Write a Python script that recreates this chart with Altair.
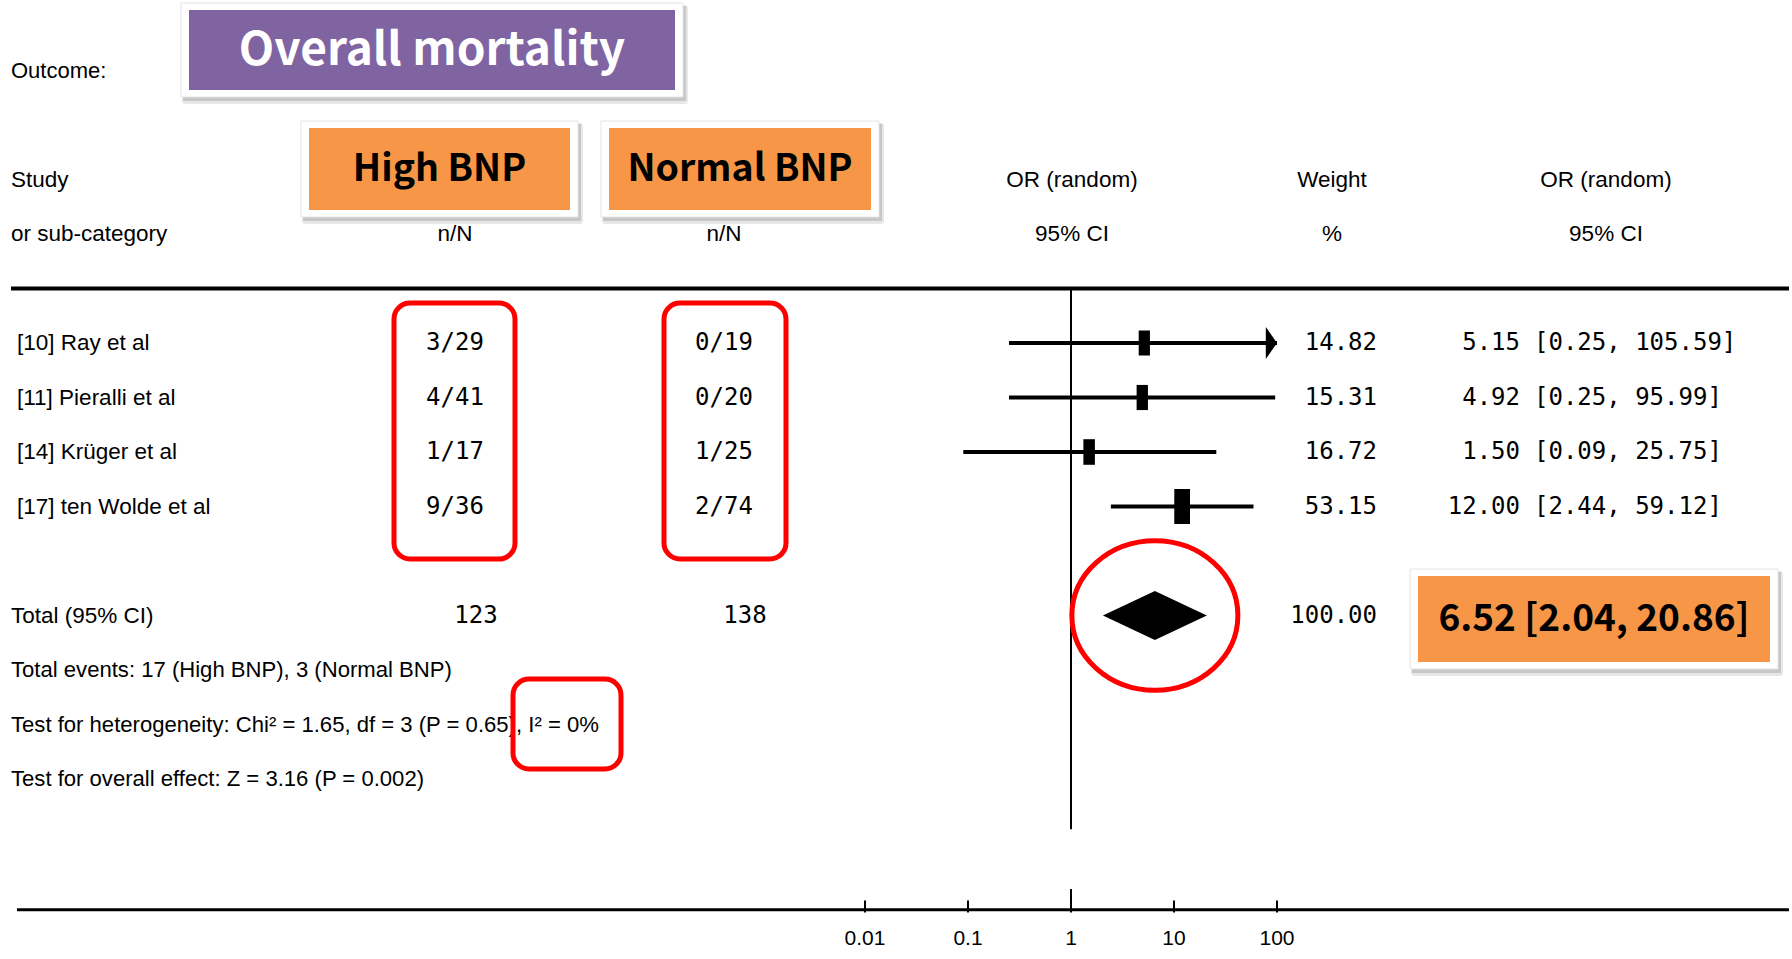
import altair as alt
import pandas as pd

# ---------------- data ----------------
studies = ["[10] Ray et al", "[11] Pieralli et al", "[14] Krüger et al", "[17] ten Wolde et al"]
high_bnp = ["3/29", "4/41", "1/17", "9/36"]
normal_bnp = ["0/19", "0/20", "1/25", "2/74"]
weight = [14.82, 15.31, 16.72, 53.15]
odds_ratio = [5.15, 4.92, 1.50, 12.00]
ci_low = [0.25, 0.25, 0.09, 2.44]
ci_high = [105.59, 95.99, 25.75, 59.12]

total_label = "Total (95% CI)"
total_high_n = 123
total_normal_n = 138
total_weight = 100.00
total_or = 6.52
total_low = 2.04
total_up = 20.86

footer_lines = [
    "Total events: 17 (High BNP), 3 (Normal BNP)",
    "Test for heterogeneity: Chi² = 1.65, df = 3 (P = 0.65), I² = 0%",
    "Test for overall effect: Z = 3.16 (P = 0.002)",
]

axis_ticks = [0.01, 0.1, 1, 10, 100]

# ---------------- layout ----------------
W, H = 1792, 959
PX_ONE, PX_DECADE = 1071, 103          # pixel of OR = 1, pixels per decade
ROW0, ROW_PX = 343, 54.5               # pixel of first study row, row pitch

x_scale = alt.Scale(type="log",
                    domain=[10 ** (-PX_ONE / PX_DECADE), 10 ** ((W - PX_ONE) / PX_DECADE)],
                    nice=False)
y_scale = alt.Scale(type="linear", domain=[-ROW0 / ROW_PX, (H - ROW0) / ROW_PX],
                    reverse=True, zero=False, nice=False)

TXT = "'Liberation Sans', Arial, sans-serif"
NUM = "'DejaVu Sans Mono', 'Liberation Mono', monospace"
BOX = "'Noto Sans CJK KR', 'Noto Sans', sans-serif"
TXT_SIZE = 22.5
NUM_SIZE = 24
AXIS_MAX = max(axis_ticks)


def X(field):
    return alt.X(field, type="quantitative", scale=x_scale, axis=None)


def Y(field):
    return alt.Y(field, type="quantitative", scale=y_scale, axis=None)


one = alt.Data(values=[{}])


def text_rows(labels, rows, x_px, align="left", font=TXT, size=TXT_SIZE, **kw):
    df = pd.DataFrame({"label": labels, "row": rows})
    return alt.Chart(df).mark_text(align=align, baseline="middle", font=font,
                                   fontSize=size, color="black", **kw).encode(
        x=alt.value(x_px), y=Y("row"), text="label:N")


def rect(x0, y0, x1, y1, **kw):
    return alt.Chart(one).mark_rect(**kw).encode(
        x=alt.value(x0), x2=alt.value(x1), y=alt.value(y0), y2=alt.value(y1))


def label_box(x0, y0, x1, y1, fill, text, color, size):
    shadow_soft = rect(x0 + 1, y0 + 2, x1 + 5, y1 + 7, color="#b0b0b0", opacity=0.3,
                       cornerRadius=3)
    shadow = rect(x0 + 2, y0 + 3, x1 + 3, y1 + 4, color="#a0a0a0", opacity=0.45)
    frame = rect(x0, y0, x1, y1, color="white", stroke="#e4e4e4", strokeWidth=1)
    inner = rect(x0 + 8, y0 + 7, x1 - 8, y1 - 7, color=fill)
    txt = alt.Chart(one).mark_text(text=text, font=BOX, fontWeight="bold", fontSize=size,
                                   color=color, align="center", baseline="middle").encode(
        x=alt.value((x0 + x1) / 2), y=alt.value((y0 + y1) / 2 + 1))
    return [shadow_soft, shadow, frame, inner, txt]


def red_frame(x0, y0, x1, y1):
    return rect(x0, y0, x1, y1, fillOpacity=0, stroke="#ff0000", strokeWidth=5,
                cornerRadius=16)


rows = list(range(len(studies)))
TOTAL_ROW = len(studies) + 1

study_df = pd.DataFrame({
    "row": rows, "study": studies, "weight": weight, "or": odds_ratio,
    "lo": ci_low, "hi": ci_high,
})
study_df["hi_shown"] = study_df["hi"].clip(upper=AXIS_MAX)

layers = []

# headers
layers.append(text_rows(["Outcome:"], [-5], 11, size=22))
layers.append(text_rows(["Study", "or sub-category"], [-3, -2], 11))
layers.append(text_rows(["n/N"], [-2], 455, align="center"))
layers.append(text_rows(["n/N"], [-2], 724, align="center"))
layers.append(text_rows(["OR (random)", "95% CI"], [-3, -2], 1072, align="center"))
layers.append(text_rows(["Weight", "%"], [-3, -2], 1332, align="center"))
layers.append(text_rows(["OR (random)", "95% CI"], [-3, -2], 1606, align="center"))

# header separator
layers.append(alt.Chart(one).mark_rule(color="black", strokeWidth=4).encode(
    x=alt.value(11), x2=alt.value(1789), y=alt.YDatum(-1, scale=y_scale, axis=None)))

# study rows
layers.append(text_rows(studies, rows, 17))
layers.append(text_rows(high_bnp, rows, 455, align="center", font=NUM, size=NUM_SIZE))
layers.append(text_rows(normal_bnp, rows, 724, align="center", font=NUM, size=NUM_SIZE))
layers.append(text_rows([f"{w:.2f}" for w in weight], rows, 1377, align="right",
                        font=NUM, size=NUM_SIZE))
layers.append(text_rows([f"{v:.2f}" for v in odds_ratio], rows, 1520, align="right",
                        font=NUM, size=NUM_SIZE))
layers.append(text_rows([f"[{a:.2f}, {b:.2f}]" for a, b in zip(ci_low, ci_high)], rows, 1534,
                        font=NUM, size=NUM_SIZE))

# total row and footer
layers.append(text_rows([total_label], [TOTAL_ROW], 11))
layers.append(text_rows(footer_lines, [TOTAL_ROW + 1, TOTAL_ROW + 2, TOTAL_ROW + 3], 11,
                        size=22.1))
layers.append(text_rows([str(total_high_n)], [TOTAL_ROW], 476, align="center",
                        font=NUM, size=NUM_SIZE))
layers.append(text_rows([str(total_normal_n)], [TOTAL_ROW], 745, align="center",
                        font=NUM, size=NUM_SIZE))
layers.append(text_rows([f"{total_weight:.2f}"], [TOTAL_ROW], 1377, align="right",
                        font=NUM, size=NUM_SIZE))

# line of no effect
layers.append(alt.Chart(one).mark_rule(color="black", strokeWidth=2).encode(
    x=alt.XDatum(1, scale=x_scale, axis=None),
    y=alt.YDatum(-1, scale=y_scale, axis=None),
    y2=alt.Y2Datum(8.92)))

# confidence intervals
layers.append(alt.Chart(study_df).mark_rule(color="black", strokeWidth=4).encode(
    x=X("lo"), x2="hi_shown", y=Y("row")))

# arrows for intervals running past the axis
layers.append(alt.Chart(study_df).transform_filter(f"datum.hi > {AXIS_MAX}").mark_point(
    shape="M-0.7,-1L0,0L-0.7,1Z", filled=True, color="black", opacity=1, size=1024).encode(
    x=X("hi_shown"), y=Y("row")))

# weighted study markers
layers.append(alt.Chart(study_df).mark_point(
    shape="M-0.45,-1L0.45,-1L0.45,1L-0.45,1Z", filled=True, color="black", opacity=1).encode(
    x=X("or"), y=Y("row"),
    size=alt.Size("weight:Q", legend=None,
                  scale=alt.Scale(domain=[min(weight), max(weight)], range=[625, 1225],
                                  zero=False))))

# pooled estimate diamond
half = 0.45
diamond = pd.DataFrame({
    "x": [total_low, total_or, total_up],
    "top": [TOTAL_ROW, TOTAL_ROW - half, TOTAL_ROW],
    "bottom": [TOTAL_ROW, TOTAL_ROW + half, TOTAL_ROW],
})
layers.append(alt.Chart(diamond).mark_area(color="black", opacity=1).encode(
    x=X("x"), y=Y("top"), y2="bottom"))

# bottom OR axis
AXIS_ROW = 10.4
ticks_df = pd.DataFrame({"v": axis_ticks})
ticks_df["top"] = [AXIS_ROW - (0.38 if v == 1 else 0.17) for v in axis_ticks]
ticks_df["base"] = AXIS_ROW + 0.05
ticks_df["lab"] = AXIS_ROW + 0.54
layers.append(alt.Chart(one).mark_rule(color="black", strokeWidth=3).encode(
    x=alt.value(17), x2=alt.value(1789), y=alt.YDatum(AXIS_ROW, scale=y_scale, axis=None)))
layers.append(alt.Chart(ticks_df).mark_rule(color="black", strokeWidth=2).encode(
    x=X("v"), y=Y("top"), y2="base"))
layers.append(alt.Chart(ticks_df).mark_text(font=TXT, fontSize=21, baseline="middle",
                                            align="center", color="black").encode(
    x=X("v"), y=Y("lab"), text=alt.Text("v:Q", format="~g")))

# callout boxes
layers += label_box(181, 3, 683, 97, "#8064A2", "Overall mortality", "white", 46)
layers += label_box(301, 121, 578, 217, "#F79646", "High BNP", "black", 37.5)
layers += label_box(601, 121, 879, 217, "#F79646", "Normal BNP", "black", 37.5)
layers += label_box(1410, 569, 1778, 669, "#F79646",
                    f"{total_or:.2f} [{total_low:.2f}, {total_up:.2f}]", "black", 37)

# red highlights
layers.append(red_frame(394, 303, 515, 559))
layers.append(red_frame(664, 303, 786, 559))
layers.append(red_frame(513, 679, 621, 769))
layers.append(alt.Chart(one).mark_point(
    shape="M-1,0A1,0.9,0,1,0,1,0A1,0.9,0,1,0,-1,0Z", filled=False, stroke="#ff0000",
    strokeWidth=5, opacity=1, size=27556).encode(
    x=alt.XDatum(total_or, scale=x_scale, axis=None),
    y=alt.YDatum(TOTAL_ROW, scale=y_scale, axis=None)))

chart = alt.layer(*layers).properties(
    width=W, height=H, padding=0, autosize="none", background="white"
).configure_view(stroke=None)

chart.save("out.html", embed_options={"renderer": "svg", "actions": False})
